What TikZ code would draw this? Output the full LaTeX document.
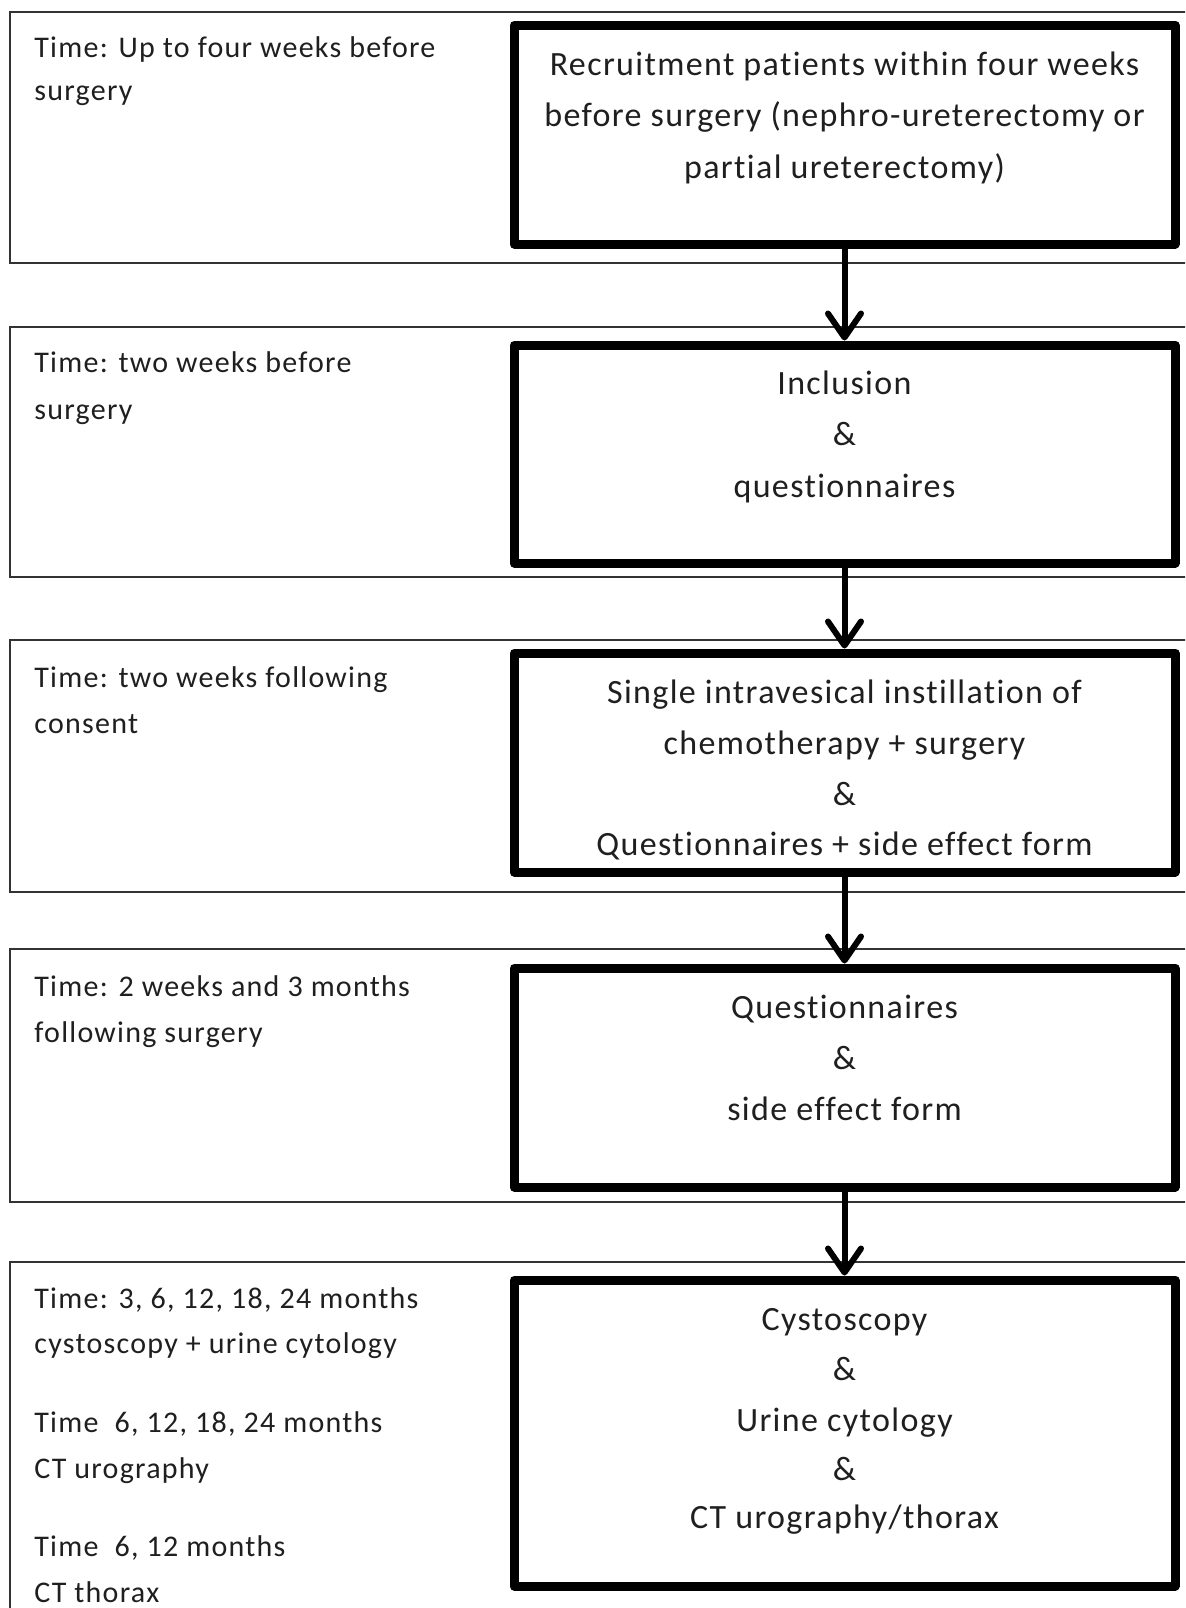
\documentclass[tikz,border=0pt]{standalone}
\usepackage{fontspec}
\setmainfont{Carlito}
\newfontfamily\leftfont[LetterSpace=4.2,Ligatures=NoCommon]{Carlito}
\newfontfamily\boxfont[LetterSpace=4.0,Ligatures=NoCommon]{Carlito}
\usetikzlibrary{arrows.meta}
\begin{document}
\begin{tikzpicture}[x=0.5pt,y=-0.5pt,
  band/.style={draw=black!80,line width=1pt},
  stage/.style={draw=black,line width=4.5pt,line join=round,inner sep=0pt,minimum width=330.5pt},
  arr/.style={line width=3pt,-{Straight Barb[length=12pt,width=16.5pt,round]}},
  lt/.style={anchor=base west,inner sep=0pt,font=\leftfont\fontsize{15pt}{18pt}\selectfont,text=black!88},
  bt/.style={anchor=base,inner sep=0pt,font=\boxfont\fontsize{17pt}{20pt}\selectfont,text=black!88}]
\clip (0,0) rectangle (1185,1608);
\fill[white] (0,0) rectangle (1185,1608);
% time bands
\draw[band] (1200,12) -- (10,12) -- (10,263) -- (1200,263);
\draw[band] (1200,327) -- (10,327) -- (10,577) -- (1200,577);
\draw[band] (1200,640) -- (10,640) -- (10,892) -- (1200,892);
\draw[band] (1200,949) -- (10,949) -- (10,1202) -- (1200,1202);
\draw[band] (1200,1262) -- (10,1262) -- (10,1700);
% stage boxes
\node[stage,minimum height=109.5pt] (b1) at (844.5,134.5) {};
\node[stage,minimum height=109pt] (b2) at (844.5,454) {};
\node[stage,minimum height=109.5pt] (b3) at (844.5,762.5) {};
\node[stage,minimum height=109.5pt] (b4) at (844.5,1077.5) {};
\node[stage,minimum height=153pt] (b5) at (844.5,1433) {};
% arrows
\draw[arr] (b1.south) -- (b2.north);
\draw[arr] (b2.south) -- (b3.north);
\draw[arr] (b3.south) -- (b4.north);
\draw[arr] (b4.south) -- (b5.north);
% left texts
\node[lt] (l1a) at (34,57) {Time: Up to four weeks before};
\node[lt] (l1b) at (34,100) {surgery};
\node[lt] (l2a) at (34,372) {Time: two weeks before};
\node[lt] (l2b) at (34,419) {surgery};
\node[lt] (l3a) at (34,687) {Time: two weeks following};
\node[lt] (l3b) at (34,733) {consent};
\node[lt] (l4a) at (34,996) {Time: 2 weeks and 3 months};
\node[lt] (l4b) at (34,1042) {following surgery};
\node[lt] (l5a) at (34,1308) {Time: 3, 6, 12, 18, 24 months};
\node[lt] (l5b) at (34,1353) {cystoscopy + urine cytology};
\node[lt] (l5c) at (34,1432) {Time\ \ 6, 12, 18, 24 months};
\node[lt] (l5d) at (34,1478) {CT urography};
\node[lt] (l5e) at (34,1556) {Time\ \ 6, 12 months};
\node[lt] (l5f) at (34,1602) {CT thorax};
% box texts
\node[bt] (t1a) at (844.5,75) {Recruitment patients within four weeks};
\node[bt] (t1b) at (844.5,126.5) {before surgery (nephro-ureterectomy or};
\node[bt] (t1c) at (844.5,178) {partial ureterectomy)};
\node[bt] (t2a) at (844.5,394) {Inclusion};
\node[bt] (t2b) at (844.5,445.5) {\&};
\node[bt] (t2c) at (844.5,497) {questionnaires};
\node[bt] (t3a) at (844.5,703) {Single intravesical instillation of};
\node[bt] (t3b) at (844.5,754) {chemotherapy + surgery};
\node[bt] (t3c) at (844.5,805) {\&};
\node[bt] (t3d) at (844.5,855) {Questionnaires + side effect form};
\node[bt] (t4a) at (844.5,1018.5) {Questionnaires};
\node[bt] (t4b) at (844.5,1069) {\&};
\node[bt] (t4c) at (844.5,1120) {side effect form};
\node[bt] (t5a) at (844.5,1330) {Cystoscopy};
\node[bt] (t5b) at (844.5,1380.5) {\&};
\node[bt] (t5c) at (844.5,1431) {Urine cytology};
\node[bt] (t5d) at (844.5,1480) {\&};
\node[bt] (t5e) at (844.5,1528) {CT urography/thorax};
\end{tikzpicture}
\end{document}
